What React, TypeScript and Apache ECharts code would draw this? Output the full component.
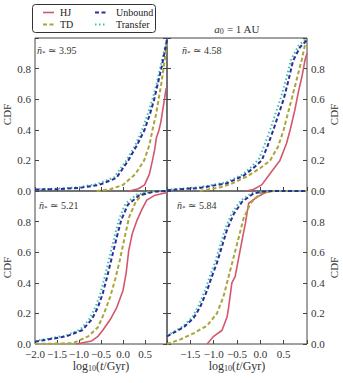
import { useEffect, useRef } from 'react';
import * as echarts from 'echarts';

// ---- data: [log10(t/Gyr), CDF] ----
const panelLabels = ['3.95', '4.58', '5.21', '5.84'];
const xTicks = [-2.0, -1.5, -1.0, -0.5, 0.0, 0.5, 1.0];
const legendCol1 = ['HJ', 'TD'];
const legendCol2 = ['Unbound', 'Transfer'];

// top-left (n = 3.95)
const tlHJ = [[0.14, 0], [0.35, 0.015], [0.49, 0.04], [0.6, 0.11], [0.67, 0.2], [0.72, 0.27], [0.76, 0.35], [0.81, 0.39], [0.86, 0.45], [0.92, 0.56], [0.98, 0.67], [1.0, 0.67]];
const tlTD = [[-0.6, 0], [-0.3, 0.01], [0, 0.04], [0.28, 0.11], [0.48, 0.2], [0.6, 0.3], [0.67, 0.4], [0.75, 0.5], [0.81, 0.6], [0.87, 0.7], [0.92, 0.8], [0.97, 0.9], [1.0, 0.97]];
const tlUnbound = [[-2, 0.01], [-1.5, 0.012], [-1.0, 0.02], [-0.54, 0.04], [-0.15, 0.085], [0.12, 0.2], [0.32, 0.3], [0.49, 0.4], [0.61, 0.5], [0.71, 0.6], [0.79, 0.7], [0.87, 0.8], [0.94, 0.9], [1.0, 0.99]];
const tlTransfer = [[-2, 0.012], [-1.5, 0.015], [-1.0, 0.025], [-0.6, 0.045], [-0.2, 0.09], [0.08, 0.2], [0.28, 0.3], [0.45, 0.41], [0.57, 0.51], [0.68, 0.61], [0.77, 0.71], [0.85, 0.81], [0.93, 0.91], [1.0, 0.99]];

// top-right (n = 4.58)
const trHJ = [[-0.3, 0], [-0.15, 0.01], [0.03, 0.04], [0.21, 0.115], [0.42, 0.2], [0.56, 0.31], [0.64, 0.4], [0.74, 0.53], [0.81, 0.64], [0.9, 0.76], [0.96, 0.86], [1.0, 0.9]];
const trTD = [[-1.3, 0], [-0.86, 0.024], [-0.6, 0.05], [-0.29, 0.094], [0, 0.15], [0.21, 0.2], [0.38, 0.29], [0.5, 0.4], [0.67, 0.6], [0.78, 0.73], [0.89, 0.86], [0.96, 0.96], [1.0, 1.0]];
const trUnbound = [[-2, 0.005], [-1.3, 0.02], [-0.72, 0.05], [-0.36, 0.1], [-0.15, 0.15], [0.03, 0.2], [0.15, 0.29], [0.28, 0.4], [0.5, 0.6], [0.6, 0.72], [0.7, 0.85], [0.85, 0.94], [0.98, 0.98], [1.0, 1.0]];
const trTransfer = [[-2, 0.008], [-1.3, 0.025], [-0.75, 0.055], [-0.4, 0.105], [-0.2, 0.155], [-0.03, 0.21], [0.09, 0.3], [0.22, 0.41], [0.44, 0.61], [0.55, 0.73], [0.66, 0.86], [0.82, 0.95], [0.96, 0.99], [1.0, 1.0]];

// bottom-left (n = 5.21)
const blHJ = [[-1.07, 0], [-0.71, 0.02], [-0.57, 0.05], [-0.46, 0.09], [-0.29, 0.16], [-0.14, 0.24], [0, 0.35], [0.07, 0.46], [0.13, 0.61], [0.21, 0.72], [0.32, 0.81], [0.43, 0.88], [0.54, 0.94], [0.71, 0.97], [1.0, 0.99]];
const blTD = [[-2, 0], [-1.14, 0.005], [-0.79, 0.05], [-0.57, 0.11], [-0.43, 0.2], [-0.29, 0.31], [-0.18, 0.42], [-0.07, 0.55], [0.04, 0.7], [0.14, 0.83], [0.29, 0.93], [0.46, 0.985], [0.71, 1.0], [1.0, 1.0]];
const blUnbound = [[-2, 0.015], [-1.29, 0.05], [-0.93, 0.09], [-0.71, 0.16], [-0.57, 0.24], [-0.46, 0.33], [-0.36, 0.44], [-0.25, 0.57], [-0.14, 0.7], [-0.04, 0.81], [0.11, 0.91], [0.36, 0.97], [0.71, 0.996], [1.0, 1.0]];
const blTransfer = [[-2, 0.02], [-1.3, 0.055], [-0.97, 0.095], [-0.76, 0.165], [-0.62, 0.245], [-0.51, 0.335], [-0.41, 0.445], [-0.3, 0.575], [-0.19, 0.705], [-0.09, 0.815], [0.05, 0.915], [0.3, 0.975], [0.65, 0.997], [1.0, 1.0]];

// bottom-right (n = 5.84)
const brHJ = [[-1.14, 0], [-1.0, 0.05], [-0.82, 0.09], [-0.71, 0.18], [-0.68, 0.24], [-0.61, 0.4], [-0.54, 0.44], [-0.46, 0.57], [-0.39, 0.68], [-0.32, 0.79], [-0.25, 0.92], [-0.07, 0.96], [0.11, 0.99], [0.29, 1.0], [1.0, 1.0]];
const brTD = [[-2, 0], [-1.71, 0.03], [-1.43, 0.07], [-1.14, 0.12], [-0.93, 0.2], [-0.79, 0.31], [-0.68, 0.44], [-0.57, 0.57], [-0.46, 0.7], [-0.36, 0.82], [-0.21, 0.92], [0, 0.985], [0.29, 1.0], [1.0, 1.0]];
const brUnbound = [[-2, 0.05], [-1.64, 0.11], [-1.43, 0.17], [-1.29, 0.24], [-1.14, 0.35], [-1.04, 0.44], [-0.93, 0.53], [-0.82, 0.64], [-0.71, 0.75], [-0.57, 0.85], [-0.39, 0.93], [-0.14, 0.985], [0.14, 1.0], [1.0, 1.0]];
const brTransfer = [[-2, 0.055], [-1.66, 0.115], [-1.46, 0.175], [-1.33, 0.245], [-1.18, 0.355], [-1.08, 0.445], [-0.97, 0.535], [-0.86, 0.645], [-0.75, 0.755], [-0.61, 0.855], [-0.43, 0.935], [-0.18, 0.988], [0.1, 1.0], [1.0, 1.0]];

const panels = [
  { HJ: tlHJ, TD: tlTD, Unbound: tlUnbound, Transfer: tlTransfer },
  { HJ: trHJ, TD: trTD, Unbound: trUnbound, Transfer: trTransfer },
  { HJ: blHJ, TD: blTD, Unbound: blUnbound, Transfer: blTransfer },
  { HJ: brHJ, TD: brTD, Unbound: brUnbound, Transfer: brTransfer },
];
const seriesOrder = ['HJ', 'TD', 'Transfer', 'Unbound'];

const FONT = '"Liberation Serif", "DejaVu Serif", serif';
const FRAME = '#444';
const TEXT = '#333';

const styles: Record<string, any> = {
  HJ: { color: '#d4566c', width: 1.6, type: 'solid', dash: null },
  TD: { color: '#a9a53a', width: 2, type: [4, 2.5], dash: [4, 2.5] },
  Unbound: { color: '#2c2e96', width: 2, type: [4, 2.5], dash: [4, 2.5] },
  Transfer: { color: '#3dbfb0', width: 2, type: [1.5, 2.5], dash: [1.5, 2.5] },
};

const fmtNum = (v: number) => {
  const s = Math.abs(v).toFixed(1);
  return v < -1e-9 ? '\u2212' + s : s;
};

export default function App() {
  const ref = useRef<HTMLDivElement>(null);
  useEffect(() => {
    document.body.style.margin = '0';
    const chart = echarts.init(ref.current!, undefined, { renderer: 'svg' });

    const PX = [27, 167];
    const PY = [38, 191];
    const W = 140;
    const H = 153;

    const grid: any[] = [];
    const xAxis: any[] = [];
    const yAxis: any[] = [];
    const series: any[] = [];
    const graphic: any[] = [];

    for (let g = 0; g < 4; g++) {
      const col = g % 2;
      const row = Math.floor(g / 2);
      const isRight = col === 1;
      const isBottom = row === 1;
      grid.push({ left: PX[col], top: PY[row], width: W, height: H, show: true, borderColor: FRAME, borderWidth: 1, backgroundColor: 'transparent' });
      xAxis.push({
        type: 'value', gridIndex: g, min: xTicks[0], max: xTicks[xTicks.length - 1], interval: 0.5,
        position: 'bottom',
        axisLine: { show: false, onZero: false },
        splitLine: { show: false },
        axisTick: { show: true, inside: true, length: 4, lineStyle: { color: FRAME } },
        axisLabel: {
          show: isBottom, margin: 4, fontFamily: FONT, fontSize: 11, color: TEXT,
          formatter: (v: number) => (v >= 0.999 || (isRight && v <= -1.999) ? '' : fmtNum(v)),
        },
        name: isBottom ? '{n|log}{s|10}{n|(}{i|t}{n|/Gyr)}' : '',
        nameLocation: 'middle',
        nameGap: 14,
        nameTextStyle: {
          fontFamily: FONT, color: TEXT, verticalAlign: 'top',
          rich: {
            n: { fontFamily: FONT, fontSize: 12, color: TEXT },
            s: { fontFamily: FONT, fontSize: 8, color: TEXT, verticalAlign: 'bottom', padding: [6, 0, 0, 0] },
            i: { fontFamily: FONT, fontSize: 12, color: TEXT, fontStyle: 'italic' },
          },
        },
      });
      const yBase = {
        type: 'value', gridIndex: g, min: 0, max: 1, interval: 0.2,
        axisLine: { show: false, onZero: false },
        splitLine: { show: false },
        axisTick: { show: true, inside: true, length: 4, lineStyle: { color: FRAME } },
      };
      yAxis.push({
        ...yBase,
        position: isRight ? 'right' : 'left',
        axisLabel: {
          show: true, margin: 4, fontFamily: FONT, fontSize: 11, color: TEXT,
          formatter: (v: number) => (v >= 0.999 ? '' : v.toFixed(1)),
        },
        name: 'CDF', nameLocation: 'middle', nameRotate: 90, nameGap: isRight ? 20 : 23,
        nameTextStyle: { fontFamily: FONT, fontSize: 11, color: TEXT },
      });
      yAxis.push({
        ...yBase,
        position: isRight ? 'left' : 'right',
        axisLabel: { show: false },
      });
      for (const nm of seriesOrder) {
        const st = styles[nm];
        series.push({
          type: 'line', name: nm, xAxisIndex: g, yAxisIndex: 2 * g,
          data: (panels[g] as any)[nm], symbol: 'none', showSymbol: false,
          lineStyle: { color: st.color, width: st.width, type: st.type },
          itemStyle: { color: st.color },
          z: nm === 'Unbound' ? 4 : 3,
        });
      }
      const ann = [[37, 50], [182, 50], [39, 205], [177, 205]][g];
      graphic.push({
        type: 'text', x: ann[0], y: ann[1],
        style: {
          text: '{i|n\u0304}{s|*}{n| \u2243 ' + panelLabels[g] + '}',
          verticalAlign: 'middle', align: 'left',
          rich: {
            i: { fontFamily: FONT, fontSize: 10, fontStyle: 'italic', fill: TEXT },
            s: { fontFamily: FONT, fontSize: 7, fill: TEXT, verticalAlign: 'bottom', padding: [5, 0, 0, 0] },
            n: { fontFamily: FONT, fontSize: 10, fill: TEXT },
          },
        },
        z: 10,
      });
    }

    // legend box
    graphic.push({
      type: 'rect', shape: { x: 32.5, y: 4.5, width: 123, height: 28, r: 3 },
      style: { fill: '#fff', stroke: '#333', lineWidth: 1 }, z: 1,
    });
    const legendCols = [
      { names: legendCol1, lx: 43, tx: 60 },
      { names: legendCol2, lx: 95, tx: 116 },
    ];
    legendCols.forEach((c) => {
      c.names.forEach((nm, i) => {
        const y = 12.5 + i * 12;
        const st = styles[nm];
        graphic.push({
          type: 'line', shape: { x1: c.lx, y1: y, x2: c.lx + 11, y2: y },
          style: { stroke: st.color, lineWidth: st.width, lineDash: st.dash || undefined }, z: 2,
        });
        graphic.push({
          type: 'text', x: c.tx, y,
          style: { text: nm, fontFamily: FONT, fontSize: 10, fill: '#222', verticalAlign: 'middle', align: 'left' }, z: 2,
        });
      });
    });

    graphic.push({
      type: 'text', x: 237, y: 29,
      style: {
        text: '{i|a}{s|0}{n| = 1 AU}', align: 'center', verticalAlign: 'middle',
        rich: {
          i: { fontFamily: FONT, fontSize: 11, fontStyle: 'italic', fill: TEXT },
          s: { fontFamily: FONT, fontSize: 8, fill: TEXT, verticalAlign: 'bottom', padding: [5, 0, 0, 0] },
          n: { fontFamily: FONT, fontSize: 11, fill: TEXT },
        },
      },
    });

    chart.setOption({
      animation: false,
      backgroundColor: '#fff',
      grid, xAxis, yAxis, series, graphic,
    });
    return () => chart.dispose();
  }, []);
  return <div ref={ref} style={{ width: 343, height: 383 }} />;
}
